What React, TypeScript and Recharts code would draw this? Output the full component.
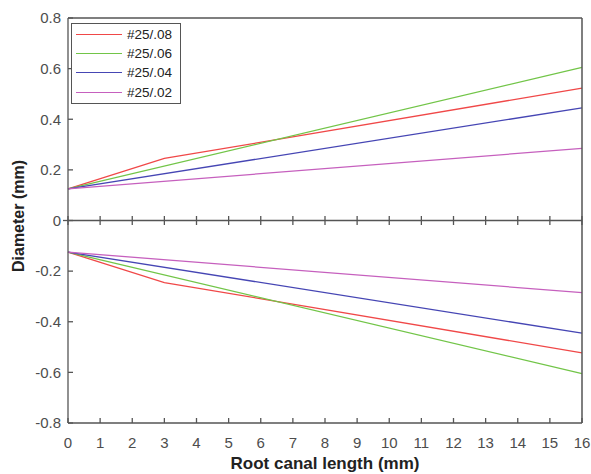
import { ComposedChart, Line, Scatter, XAxis, YAxis, ReferenceLine, Legend } from 'recharts';

const xTicks = [0, 1, 2, 3, 4, 5, 6, 7, 8, 9, 10, 11, 12, 13, 14, 15, 16];
const yTicks = [-0.8, -0.6, -0.4, -0.2, 0, 0.2, 0.4, 0.6, 0.8];

// root canal length (mm) where each taper changes
const x08 = [0, 3, 16];
const xLinear = [0, 16];

// half-diameter (mm), upper and mirrored lower contour
const upper08 = [0.125, 0.245, 0.523];
const lower08 = [-0.125, -0.245, -0.523];
const upper06 = [0.125, 0.605];
const lower06 = [-0.125, -0.605];
const upper04 = [0.125, 0.445];
const lower04 = [-0.125, -0.445];
const upper02 = [0.125, 0.285];
const lower02 = [-0.125, -0.285];

const FONT = '"Liberation Sans", Arial, sans-serif';
const AXIS = '#555555';
const TICK_TEXT = '#4d4d4d';
const TICK_LEN = 5;

const series = [
  { name: '#25/.08', color: '#f04848', xs: x08, upper: upper08, lower: lower08 },
  { name: '#25/.06', color: '#72c548', xs: xLinear, upper: upper06, lower: lower06 },
  { name: '#25/.04', color: '#4646b4', xs: xLinear, upper: upper04, lower: lower04 },
  { name: '#25/.02', color: '#c660be', xs: xLinear, upper: upper02, lower: lower02 },
];

const toPoints = (xs: number[], ys: number[]) => xs.map((x, i) => ({ x, y: ys[i] }));
const zeroTicks = xTicks.map(t => ({ x: t, y: 0 }));

const LegendBox = () => (
  <div
    style={{
      width: 110,
      boxSizing: 'border-box',
      border: `1px solid ${AXIS}`,
      background: '#fff',
      padding: '0.5px 4px 1.3px 4px',
      fontFamily: FONT,
      fontSize: 13.5,
      color: '#222',
    }}
  >
    {series.map(s => (
      <div key={s.name} style={{ display: 'flex', alignItems: 'center', height: 19.3 }}>
        <span style={{ width: 46, height: 0, borderTop: `1.5px solid ${s.color}`, marginRight: 5 }} />
        {s.name}
      </div>
    ))}
  </div>
);

// inward ticks, drawn from the axis position recharts hands to the tick renderer
const BottomTick = ({ x, y, payload }: any) => (
  <g>
    <line x1={x} x2={x} y1={y} y2={y - TICK_LEN} stroke={AXIS} strokeWidth={1.3} />
    <text x={x} y={y + 25} textAnchor="middle" fontFamily={FONT} fontSize={15} fill={TICK_TEXT}>
      {payload.value}
    </text>
  </g>
);

const TopTick = ({ x, y }: any) => (
  <line x1={x} x2={x} y1={y + 1} y2={y + 1 + TICK_LEN} stroke={AXIS} strokeWidth={1.3} />
);

const LeftTick = ({ x, y, payload }: any) => (
  <g>
    <line
      x1={payload.value === 0 ? x - TICK_LEN : x}
      x2={x + TICK_LEN}
      y1={y}
      y2={y}
      stroke={AXIS}
      strokeWidth={1.3}
    />
    <text x={x - 7} y={y + 5.3} textAnchor="end" fontFamily={FONT} fontSize={15} fill={TICK_TEXT}>
      {payload.value}
    </text>
  </g>
);

const RightTick = ({ x, y }: any) => (
  <line x1={x} x2={x - TICK_LEN} y1={y} y2={y} stroke={AXIS} strokeWidth={1.3} />
);

const ZeroTick = ({ cx, cy }: any) => (
  <line x1={cx} x2={cx} y1={cy - 4.5} y2={cy + 4.5} stroke={AXIS} strokeWidth={1.3} />
);

export default function App() {
  return (
    <div style={{ position: 'absolute', left: 0, top: 0, background: '#fff' }}>
      <ComposedChart width={591} height={474} margin={{ top: 17, right: 8, bottom: 0, left: 0 }}>
        <XAxis
          dataKey="x"
          type="number"
          domain={[0, 16]}
          ticks={xTicks}
          interval={0}
          height={51}
          stroke={AXIS}
          strokeWidth={1.3}
          tickLine={false}
          tickSize={0}
          tickMargin={0}
          tick={<BottomTick />}
          label={{
            content: ({ viewBox }: any) => (
              <text
                x={viewBox.x + viewBox.width / 2}
                y={viewBox.y + 46}
                textAnchor="middle"
                fontFamily={FONT}
                fontSize={17}
                fontWeight="bold"
                fill="#222"
              >
                Root canal length (mm)
              </text>
            ),
          }}
        />
        <XAxis
          xAxisId="top"
          orientation="top"
          dataKey="x"
          type="number"
          domain={[0, 16]}
          ticks={xTicks}
          interval={0}
          height={1}
          stroke={AXIS}
          strokeWidth={1.3}
          tickLine={false}
          tickSize={0}
          tickMargin={0}
          tick={<TopTick />}
        />
        <YAxis
          dataKey="y"
          type="number"
          domain={[-0.8, 0.8]}
          ticks={yTicks}
          interval={0}
          width={68}
          stroke={AXIS}
          strokeWidth={1.3}
          tickLine={false}
          tickSize={0}
          tickMargin={0}
          tick={<LeftTick />}
          label={{
            content: ({ viewBox }: any) => {
              const cx = viewBox.x + 18;
              const cy = viewBox.y + viewBox.height / 2 - 4.5;
              return (
                <text
                  transform={`translate(${cx},${cy}) rotate(-90)`}
                  textAnchor="middle"
                  dominantBaseline="central"
                  fontFamily={FONT}
                  fontSize={16}
                  fontWeight="bold"
                  fill="#222"
                >
                  Diameter (mm)
                </text>
              );
            },
          }}
        />
        <YAxis
          yAxisId="right"
          orientation="right"
          dataKey="y"
          type="number"
          domain={[-0.8, 0.8]}
          ticks={yTicks}
          interval={0}
          width={1}
          stroke={AXIS}
          strokeWidth={1.5}
          tickLine={false}
          tickSize={0}
          tickMargin={0}
          tick={<RightTick />}
        />
        <ReferenceLine y={0} stroke={AXIS} strokeWidth={1.3} />
        <Scatter
          data={zeroTicks}
          dataKey="y"
          shape={<ZeroTick />}
          legendType="none"
          isAnimationActive={false}
        />
        {series.map(s => (
          <Line
            key={`${s.name}-up`}
            name={s.name}
            data={toPoints(s.xs, s.upper)}
            dataKey="y"
            stroke={s.color}
            strokeWidth={1.3}
            dot={false}
            isAnimationActive={false}
          />
        ))}
        {series.map(s => (
          <Line
            key={`${s.name}-low`}
            name={`${s.name} lower`}
            data={toPoints(s.xs, s.lower)}
            dataKey="y"
            stroke={s.color}
            strokeWidth={1.3}
            dot={false}
            legendType="none"
            isAnimationActive={false}
          />
        ))}
        <Legend
          layout="vertical"
          align="center"
          verticalAlign="middle"
          content={() => <LegendBox />}
          wrapperStyle={{ position: 'absolute', left: 71, top: 23, width: 110, height: 'auto' }}
        />
      </ComposedChart>
    </div>
  );
}
